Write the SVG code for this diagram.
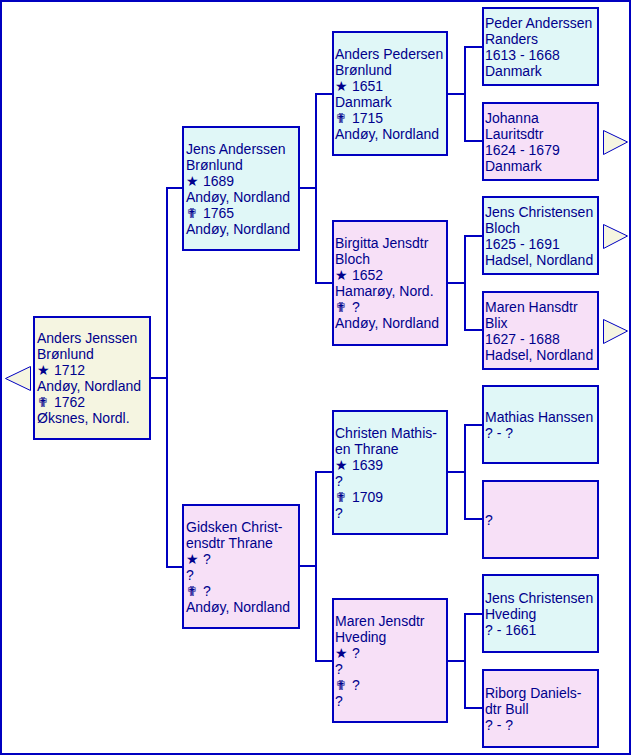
<svg xmlns="http://www.w3.org/2000/svg" width="632" height="756" viewBox="0 0 632 756">
<style>
.frame{fill:#ffffff;stroke:#0000c0;stroke-width:2}
.box{stroke:#0000c0;stroke-width:2}
.m{fill:#e0f7f7}
.f{fill:#f7e0f7}
.r{fill:#f5f5e1}
.t{font-family:"Liberation Sans",Arial,sans-serif;font-size:14px;fill:#00008c}
.sym{font-family:"DejaVu Sans",sans-serif;font-size:14px}
.cr{font-family:"DejaVu Sans",sans-serif;font-size:14px}
.ln{fill:none;stroke:#0000c0;stroke-width:2}
.tri{fill:#f5f5e1;stroke:#0000c0;stroke-width:1}
</style>
<rect class="frame" x="1" y="1" width="629" height="753"/>
<g id="connectors">
<path class="ln" d="M151 378 H167 M182 188 H167 V567 H182"/>
<path class="ln" d="M300 188 H316 M332 94 H316 V283 H332"/>
<path class="ln" d="M300 566 H316 M332 472 H316 V661 H332"/>
<path class="ln" d="M448 94 H465 M482 47 H465 V141 H482"/>
<path class="ln" d="M448 283 H465 M482 236 H465 V330 H482"/>
<path class="ln" d="M448 472 H465 M482 425 H465 V519 H482"/>
<path class="ln" d="M448 661 H465 M482 614 H465 V708 H482"/>
</g>
<g id="more-left"><polygon class="tri" points="30.5,366.5 5.5,378.5 30.5,390.5"/></g>
<g id="more-johanna"><polygon class="tri" points="603.5,130.5 627.5,142 603.5,154.5"/></g>
<g id="more-jens-bloch"><polygon class="tri" points="603.5,224.5 627.5,236 603.5,248.5"/></g>
<g id="more-maren-blix"><polygon class="tri" points="603.5,319.5 627.5,331 603.5,343.5"/></g>

<g id="n-anders-jenssen">
<rect class="box r" x="34" y="317" width="116" height="122"/>
<text class="t" x="37" y="343">Anders Jenssen</text>
<text class="t" x="37" y="359">Brønlund</text>
<text class="t" x="37" y="375"><tspan class="sym">★</tspan> <tspan x="54">1712</tspan></text>
<text class="t" x="37" y="391">Andøy, Nordland</text>
<text class="t" x="37" y="407"><tspan class="cr">✟</tspan> <tspan x="54">1762</tspan></text>
<text class="t" x="37" y="423">Øksnes, Nordl.</text>
</g>

<g id="n-jens-anderssen">
<rect class="box m" x="183" y="127" width="116" height="123"/>
<text class="t" x="186" y="154">Jens Anderssen</text>
<text class="t" x="186" y="170">Brønlund</text>
<text class="t" x="186" y="186"><tspan class="sym">★</tspan> <tspan x="203">1689</tspan></text>
<text class="t" x="186" y="202">Andøy, Nordland</text>
<text class="t" x="186" y="218"><tspan class="cr">✟</tspan> <tspan x="203">1765</tspan></text>
<text class="t" x="186" y="234">Andøy, Nordland</text>
</g>

<g id="n-gidsken">
<rect class="box f" x="183" y="505" width="116" height="123"/>
<text class="t" x="186" y="532">Gidsken Christ-</text>
<text class="t" x="186" y="548">ensdtr Thrane</text>
<text class="t" x="186" y="564"><tspan class="sym">★</tspan> <tspan x="203">?</tspan></text>
<text class="t" x="186" y="580">?</text>
<text class="t" x="186" y="596"><tspan class="cr">✟</tspan> <tspan x="203">?</tspan></text>
<text class="t" x="186" y="612">Andøy, Nordland</text>
</g>

<g id="n-anders-pedersen">
<rect class="box m" x="333" y="32" width="114" height="123"/>
<text class="t" x="335" y="59">Anders Pedersen</text>
<text class="t" x="335" y="75">Brønlund</text>
<text class="t" x="335" y="91"><tspan class="sym">★</tspan> <tspan x="352">1651</tspan></text>
<text class="t" x="335" y="107">Danmark</text>
<text class="t" x="335" y="123"><tspan class="cr">✟</tspan> <tspan x="352">1715</tspan></text>
<text class="t" x="335" y="139">Andøy, Nordland</text>
</g>

<g id="n-birgitta">
<rect class="box f" x="333" y="221" width="114" height="124"/>
<text class="t" x="335" y="248">Birgitta Jensdtr</text>
<text class="t" x="335" y="264">Bloch</text>
<text class="t" x="335" y="280"><tspan class="sym">★</tspan> <tspan x="352">1652</tspan></text>
<text class="t" x="335" y="296">Hamarøy, Nord.</text>
<text class="t" x="335" y="312"><tspan class="cr">✟</tspan> <tspan x="352">?</tspan></text>
<text class="t" x="335" y="328">Andøy, Nordland</text>
</g>

<g id="n-christen">
<rect class="box m" x="333" y="411" width="114" height="123"/>
<text class="t" x="335" y="438">Christen Mathis-</text>
<text class="t" x="335" y="454">en Thrane</text>
<text class="t" x="335" y="470"><tspan class="sym">★</tspan> <tspan x="352">1639</tspan></text>
<text class="t" x="335" y="486">?</text>
<text class="t" x="335" y="502"><tspan class="cr">✟</tspan> <tspan x="352">1709</tspan></text>
<text class="t" x="335" y="518">?</text>
</g>

<g id="n-maren-jensdtr">
<rect class="box f" x="333" y="599" width="114" height="123"/>
<text class="t" x="335" y="626">Maren Jensdtr</text>
<text class="t" x="335" y="642">Hveding</text>
<text class="t" x="335" y="658"><tspan class="sym">★</tspan> <tspan x="352">?</tspan></text>
<text class="t" x="335" y="674">?</text>
<text class="t" x="335" y="690"><tspan class="cr">✟</tspan> <tspan x="352">?</tspan></text>
<text class="t" x="335" y="706">?</text>
</g>

<g id="n-peder">
<rect class="box m" x="483" y="8" width="115" height="77"/>
<text class="t" x="485" y="28">Peder Anderssen</text>
<text class="t" x="485" y="44">Randers</text>
<text class="t" x="485" y="60">1613 - 1668</text>
<text class="t" x="485" y="76">Danmark</text>
</g>

<g id="n-johanna">
<rect class="box f" x="483" y="103" width="115" height="77"/>
<text class="t" x="485" y="123">Johanna</text>
<text class="t" x="485" y="139">Lauritsdtr</text>
<text class="t" x="485" y="155">1624 - 1679</text>
<text class="t" x="485" y="171">Danmark</text>
</g>

<g id="n-jens-bloch">
<rect class="box m" x="483" y="197" width="115" height="77"/>
<text class="t" x="485" y="217">Jens Christensen</text>
<text class="t" x="485" y="233">Bloch</text>
<text class="t" x="485" y="249">1625 - 1691</text>
<text class="t" x="485" y="265">Hadsel, Nordland</text>
</g>

<g id="n-maren-blix">
<rect class="box f" x="483" y="292" width="115" height="77"/>
<text class="t" x="485" y="312">Maren Hansdtr</text>
<text class="t" x="485" y="328">Blix</text>
<text class="t" x="485" y="344">1627 - 1688</text>
<text class="t" x="485" y="360">Hadsel, Nordland</text>
</g>

<g id="n-mathias">
<rect class="box m" x="483" y="386" width="115" height="77"/>
<text class="t" x="485" y="422">Mathias Hanssen</text>
<text class="t" x="485" y="438">? - ?</text>
</g>

<g id="n-unknown">
<rect class="box f" x="483" y="481" width="115" height="77"/>
<text class="t" x="485" y="525">?</text>
</g>

<g id="n-jens-hveding">
<rect class="box m" x="483" y="575" width="115" height="77"/>
<text class="t" x="485" y="603">Jens Christensen</text>
<text class="t" x="485" y="619">Hveding</text>
<text class="t" x="485" y="635">? - 1661</text>
</g>

<g id="n-riborg">
<rect class="box f" x="483" y="670" width="115" height="77"/>
<text class="t" x="485" y="698">Riborg Daniels-</text>
<text class="t" x="485" y="714">dtr Bull</text>
<text class="t" x="485" y="730">? - ?</text>
</g>
</svg>
